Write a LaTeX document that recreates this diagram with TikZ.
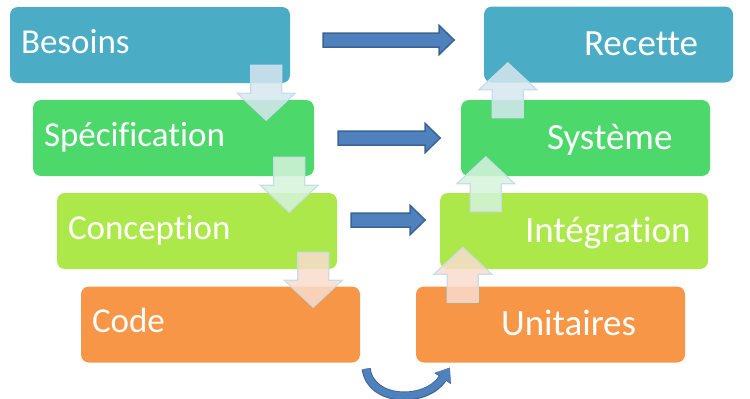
\documentclass[tikz,border=0pt]{standalone}
\usepackage{fontspec}
\setmainfont{Carlito}[RawFeature={-liga}]
\usetikzlibrary{calc,arrows.meta}

\definecolor{cteal}{HTML}{4BACC6}
\definecolor{cgreen}{HTML}{4DD86C}
\definecolor{clime}{HTML}{ADE84A}
\definecolor{corange}{HTML}{F79646}
\definecolor{arrowblue}{HTML}{4F81BD}
\definecolor{arrowedge}{HTML}{3B6496}
\definecolor{paleblue}{HTML}{D6E7EF}
\definecolor{palegreen}{HTML}{D6F3DC}
\definecolor{paleorange}{HTML}{FADCCD}
\definecolor{paleedge}{HTML}{C9DCE9}

% block arrows: #1 start coordinate, #2 shaft length / fill colour
\newcommand{\hblock}[2]{%
    \draw [hblk] (#1) ++(0, -7) -- ++(#2, 0) -- ++(0, -7.5) -- ++(15, 14.5)
        -- ++(-15, 14.5) -- ++(0, -7.5) -- ++(-#2, 0) -- cycle;}
\newcommand{\dnblock}[2]{%
    \draw [pale=#2] (#1) ++(-15.5, 0) -- ++(0, 28) -- ++(-13.5, 0) -- ++(29, 27)
        -- ++(29, -27) -- ++(-13.5, 0) -- ++(0, -28) -- cycle;}
\newcommand{\upblock}[2]{%
    \draw [pale=#2] (#1) ++(-15.5, 0) -- ++(0, -28) -- ++(-13.5, 0) -- ++(29, -27)
        -- ++(29, 27) -- ++(-13.5, 0) -- ++(0, 28) -- cycle;}

\begin{document}
\begin{tikzpicture}[x=1pt, y=-1pt,
    box/.style={rounded corners=8pt, minimum width=280pt, minimum height=76pt, inner sep=0pt},
    txt/.style={anchor=base west, inner sep=0pt, text=white, font=\fontsize{35}{40}\selectfont},
    rtxt/.style={txt, font=\fontsize{37}{42}\selectfont},
    hblk/.style={fill=arrowblue, draw=arrowedge, line width=1.5pt},
    pale/.style={fill=#1, fill opacity=0.85, draw=paleedge, line width=1.2pt},
    swing/.style={line width=7pt, draw=arrowblue, -{Triangle[length=12pt, width=18pt, line width=0pt]},
        preaction={draw=arrowedge, line width=9pt, -{Triangle[length=13pt, width=20pt, line width=0pt]}}}]
    \useasboundingbox (0, 0) rectangle (750, 399);

    \node [box, fill=cteal] (besoins) at (150, 45) {};
        \node [box, fill=cgreen, minimum width=281pt] (specif) at ($(besoins) + (23.5, 93)$) {};
            \node [box, fill=clime] (concept) at ($(specif) + (23.5, 93)$) {};
                \node [box, fill=corange, minimum width=279pt] (code) at ($(concept) + (23.5, 93.5)$) {};
    \node [box, fill=cteal, minimum width=249pt] (recette) at (608.5, 44.5) {};
        \node [box, fill=cgreen, minimum width=249pt] (systeme) at ($(recette) + (-23, 93.5)$) {};
            \node [box, fill=clime, minimum width=268pt] (integ) at ($(systeme) + (-11.5, 93)$) {};
                \node [box, fill=corange, minimum width=269pt] (unit) at ($(integ) + (-23.5, 93.5)$) {};

    \node [txt] (tbesoins) at ($(besoins.west) + (11, 8)$) {Besoins};
    \node [txt] (tspecif) at ($(specif.west) + (11, 8)$) {Spécification};
    \node [txt] (tconcept) at ($(concept.west) + (11, 8)$) {Conception};
    \node [txt] (tcode) at ($(code.west) + (11, 8)$) {Code};
    \node [rtxt] (trecette) at ($(recette.west) + (100, 11)$) {Recette};
    \node [rtxt] (tsysteme) at ($(systeme.west) + (86, 11)$) {Système};
    \node [rtxt] (tinteg) at ($(integ.west) + (85, 11)$) {Intégration};
    \node [rtxt] (tunit) at ($(unit.west) + (85, 11)$) {Unitaires};

    \coordinate (h1) at ($(besoins.east) + (33, -5)$);
    \coordinate (h2) at ($(specif.east) + (24, 0)$);
    \coordinate (h3) at ($(concept.east) + (14, -11)$);
    \hblock{h1}{116}
    \hblock{h2}{87}
    \hblock{h3}{59}

    \coordinate (d1) at ($(besoins.south east) + (-24, -18)$);
    \coordinate (d2) at ($(specif.south east) + (-25, -19)$);
    \coordinate (d3) at ($(concept.south east) + (-24, -17)$);
    \dnblock{d1}{paleblue}
    \dnblock{d2}{palegreen}
    \dnblock{d3}{paleorange}

    \coordinate (u1) at ($(unit.north west) + (47, 16)$);
    \coordinate (u2) at ($(integ.north west) + (46, 19)$);
    \coordinate (u3) at ($(systeme.north west) + (47, 18)$);
    \upblock{u1}{paleorange}
    \upblock{u2}{palegreen}
    \upblock{u3}{paleblue}

    \coordinate (c1) at ($(code.south east) + (6, 6)$);
    \coordinate (c2) at ($(unit.south west) + (34, 5)$);
    \draw [swing] (c1) .. controls ($(c1) + (4, 34)$) and ($(c2) + (-24, 36)$) .. (c2);
\end{tikzpicture}
\end{document}
